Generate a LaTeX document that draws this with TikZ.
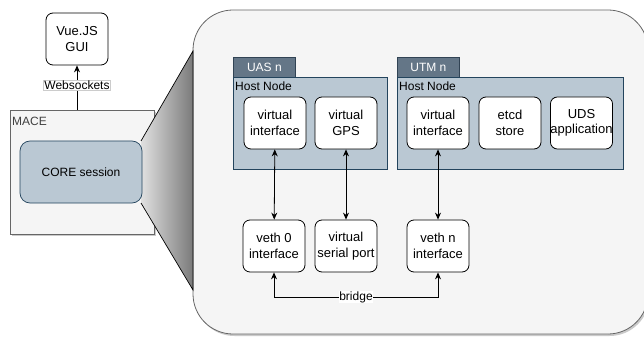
\documentclass[tikz,border=0pt]{standalone}
\usepackage{fontspec}
\setmainfont{Liberation Sans}
\usetikzlibrary{shadows,arrows.meta}
\definecolor{boxfill}{HTML}{F5F5F5}
\definecolor{boxline}{HTML}{666666}
\definecolor{hostfill}{HTML}{BAC8D3}
\definecolor{hostline}{HTML}{23445D}
\definecolor{tabfill}{HTML}{647687}
\definecolor{tabline}{HTML}{314354}
\tikzset{
  comp/.style={draw=black, fill=white, rounded corners=7pt, minimum width=62pt, minimum height=52pt, inner sep=0pt, align=center, font=\fontsize{13}{15.5}\selectfont, line width=0.8pt},
  host/.style={draw=hostline, fill=hostfill, inner sep=0pt, line width=0.7pt},
  tab/.style={draw=tabline, fill=tabfill, text=white, inner sep=0pt, minimum width=62pt, minimum height=20pt, font=\fontsize{12}{14}\selectfont, line width=0.7pt},
  hlabel/.style={anchor=north west, inner sep=0pt, font=\fontsize{12}{14}\selectfont},
  conn/.style={line width=0.8pt, {Stealth[length=7pt,width=6pt]}-{Stealth[length=7pt,width=6pt]}},
  lbl/.style={fill=white, inner sep=1pt, font=\fontsize{12}{14}\selectfont},
  shad/.style={drop shadow={shadow xshift=1.5pt, shadow yshift=-2pt, opacity=0.35, fill=black!60}},
}
\begin{document}
\begin{tikzpicture}[x=1pt,y=-1pt]
\useasboundingbox (0,0) rectangle (644,339);
% big container
\draw[draw=boxline, fill=boxfill, rounded corners=40pt, line width=0.8pt, shad] (193,10) rectangle (648,334);
% MACE
\node[draw=boxline, fill=boxfill, minimum width=144pt, minimum height=124pt, inner sep=0pt, shad, line width=0.7pt] (mace) at (82,172) {};
\node[hlabel, text=black!75, anchor=north west] (macelbl) at (12,117) {MACE};
% zoom wedge
\shade[left color=black!12, right color=black!52] (141,141) -- (193,51) -- (193,290) -- (141,203) -- cycle;
\draw[line width=0.7pt] (141,141) -- (193,51) -- (193,290) -- (141,203);
\node[draw=hostline, fill=hostfill, rounded corners=10pt, minimum width=122pt, minimum height=62pt, inner sep=0pt, font=\fontsize{12}{14}\selectfont, line width=0.7pt] (core) at (81,172) {CORE session};
% Vue GUI
\node[comp] (gui) at (77,39) {Vue.JS\\GUI};
\draw[line width=0.8pt, -{Stealth[length=7pt,width=6pt]}] (mace.north -| gui) -- node[lbl, draw=black!20, pos=0.55] (ws) {Websockets} (gui.south);
% UAS
\node[tab, anchor=north west] (uastab) at (233,57) {UAS n};
\node[host, anchor=north west, minimum width=154pt, minimum height=92pt] (uashost) at (233,77) {};
\node[hlabel] (uashl) at (235,82) {Host Node};
\node[comp] (vi1) at (275,123) {virtual\\interface};
\node[comp] (vgps) at (346,123) {virtual\\GPS};
% UTM
\node[tab, anchor=north west] (utmtab) at (397,57) {UTM n};
\node[host, anchor=north west, minimum width=226pt, minimum height=92pt] (utmhost) at (397,77) {};
\node[hlabel] (utmhl) at (399,82) {Host Node};
\node[comp] (vi2) at (438,123) {virtual\\interface};
\node[comp] (etcd) at (510,123) {etcd\\store};
\node[comp] (uds) at (581.5,123) {UDS\\application};
% bottom row
\node[comp] (veth0) at (274,246) {veth 0\\interface};
\node[comp] (vserial) at (346,246) {virtual\\serial port};
\node[comp] (vethn) at (438,246) {veth n\\interface};
% connectors
\draw[conn] (vi1) -- (veth0);
\draw[conn] (vgps) -- (vserial);
\draw[conn] (vi2) -- (vethn);
\coordinate (b1) at (274,297);
\coordinate (b2) at (438,297);
\draw[conn] (veth0.south) -- (b1) -- node[lbl, inner sep=0.5pt] (bridge) {bridge} (b2) -- (vethn.south);
\end{tikzpicture}
\end{document}
